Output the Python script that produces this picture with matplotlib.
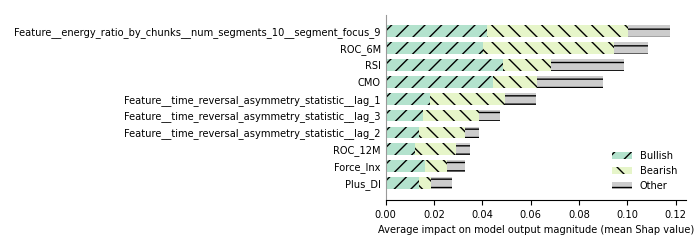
import matplotlib
matplotlib.use("Agg")
import matplotlib.pyplot as plt
import numpy as np

features = ["Feature__energy_ratio_by_chunks__num_segments_10__segment_focus_9",
            "ROC_6M", "RSI", "CMO",
            "Feature__time_reversal_asymmetry_statistic__lag_1",
            "Feature__time_reversal_asymmetry_statistic__lag_3",
            "Feature__time_reversal_asymmetry_statistic__lag_2",
            "ROC_12M", "Force_Inx", "Plus_DI"]
bullish = [0.0418, 0.0401, 0.0484, 0.0443, 0.0185, 0.0153, 0.0137, 0.0120, 0.0161, 0.0137]
bearish = [0.0583, 0.0543, 0.0199, 0.0185, 0.0310, 0.0235, 0.0190, 0.0170, 0.0091, 0.0049]
other = [0.0177, 0.0143, 0.0302, 0.0273, 0.0129, 0.0087, 0.0058, 0.0061, 0.0075, 0.0090]

plt.rcParams['hatch.color'] = 'black'
plt.rcParams['hatch.linewidth'] = 1.0
fig = plt.figure(figsize=(7, 2.5), dpi=100)
ax = fig.add_axes([0.551, 0.2, 0.429, 0.74])

n = len(features)
y = np.arange(n)[::-1]
h = 0.7
b1 = np.array(bullish); b2 = np.array(bearish); b3 = np.array(other)
ax.barh(y, b1, height=h, color="#b3e2cd", hatch="//", linewidth=0, label="Bullish")
ax.barh(y, b2, left=b1, height=h, color="#e6f5c9", hatch="\\\\", linewidth=0, label="Bearish")
ax.barh(y, b3, left=b1 + b2, height=h, color="#cccccc", hatch="--", linewidth=0, label="Other")

ax.set_yticks(y)
ax.set_yticklabels(features, fontsize=7.1)
ax.set_ylim(-1.0, 9.95)
ax.set_xlim(0, 0.1243)
ax.set_xticks([0, 0.02, 0.04, 0.06, 0.08, 0.10, 0.12])
ax.set_xticklabels(["0.00", "0.02", "0.04", "0.06", "0.08", "0.10", "0.12"])
ax.tick_params(axis='x', labelsize=7.1)
ax.tick_params(axis='y', length=0)
ax.set_xlabel("Average impact on model output magnitude (mean Shap value)", fontsize=7.1)
ax.spines['top'].set_visible(False)
ax.spines['right'].set_visible(False)
ax.spines['left'].set_color('#999999')
ax.legend(loc="lower right", frameon=False, fontsize=7.1)

fig.savefig("out.png", dpi=100)
